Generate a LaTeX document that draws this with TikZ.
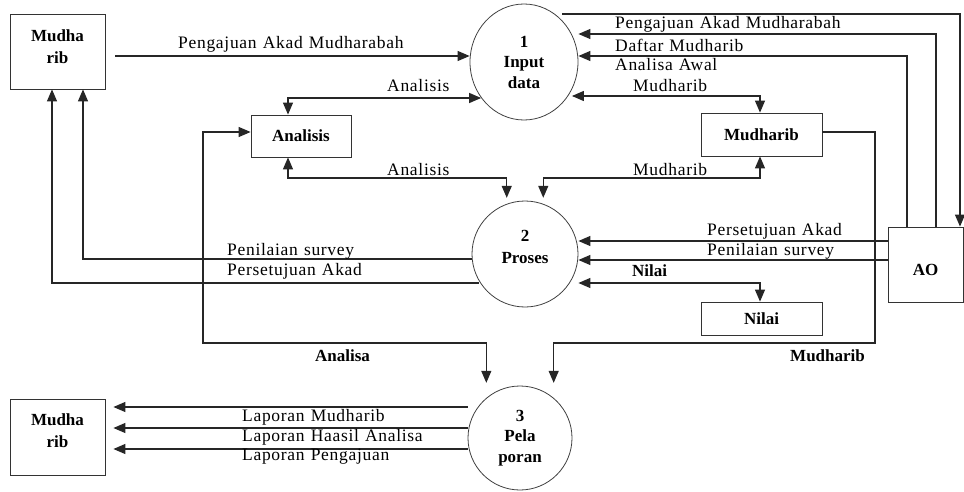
\documentclass[tikz,border=0pt]{standalone}
\usepackage{fontspec}
\setmainfont{Liberation Serif}
\newfontfamily\flowfont{Liberation Serif}[LetterSpace=4.0,WordSpace=1.2]
\usetikzlibrary{arrows.meta,shapes.geometric}
\begin{document}
\begin{tikzpicture}[x=1pt,y=-1pt,
  font=\fontsize{17}{21}\selectfont,
  box/.style={draw=black!80,line width=0.8pt,inner sep=0pt},
  proc/.style={draw=black!75,line width=0.8pt,circle,inner sep=0pt,align=center,font=\fontsize{17}{20.5}\selectfont\bfseries},
  btxt/.style={inner sep=0pt,align=center,font=\fontsize{17}{22}\selectfont\bfseries},
  lbl/.style={anchor=west,inner sep=0pt,font=\flowfont\fontsize{17.5}{21}\selectfont},
  blbl/.style={anchor=west,inner sep=0pt,font=\fontsize{17}{21}\selectfont\bfseries},
  flow/.style={draw=black!85,line width=1.2pt,-{Triangle[length=12pt,width=10pt]}},
  both/.style={draw=black!85,line width=1.2pt,{Triangle[length=12pt,width=10pt]}-{Triangle[length=12pt,width=10pt]}}]
\useasboundingbox (0,0) rectangle (964,492);

% external entities and data stores
\node[box,minimum width=95pt,minimum height=75pt] (m1) at (57.5,51.5) {};
\node[btxt] (m1t) at ([yshift=5pt]m1.center) {Mudha\\rib};
\node[box,minimum width=95pt,minimum height=76pt] (m2) at (57.5,437) {};
\node[btxt] (m2t) at ([yshift=6pt]m2.center) {Mudha\\rib};
\node[box,minimum width=100pt,minimum height=42pt,font=\fontsize{17}{21}\selectfont\bfseries] (an) at (301,136) {Analisis};
\node[box,minimum width=121pt,minimum height=43pt,font=\fontsize{17}{21}\selectfont\bfseries] (md) at (761.5,134.5) {Mudharib};
\node[box,minimum width=121pt,minimum height=33pt,font=\fontsize{17}{21}\selectfont\bfseries] (nl) at (761.5,318.5) {Nilai};
\node[box,minimum width=75pt,minimum height=75pt] (ao) at (925.5,264.5) {};
\node[btxt] (aot) at ([yshift=-5pt]ao.center) {AO};

% processes
\node[proc,ellipse,minimum width=108pt,minimum height=116pt] (p1) at (524,62) {1\\Input\\data};
\node[proc,minimum size=106pt] (p2) at (525,254) {};
\node[btxt] (p2t) at ([yshift=7pt]p2.center) {2\\Proses};
\node[proc,minimum size=104pt] (p3) at (520,438) {3\\Pela\\poran};

% flows around process 1
\draw[flow,shorten <=10pt] (m1.east |- 0,56) -- (p1.west |- 0,56);
\node[lbl] (l1) at (178,44) {Pengajuan Akad Mudharabah};
\draw[both] (an.north -| 288,0) |- (p1.220 |- 0,98);
\node[lbl] (l2) at (387,86) {Analisis};
\draw[both] (p1.-30 |- 0,96) -| (md.north -| 760,0);
\node[lbl] (l3) at (633,86) {Mudharib};
\draw[flow] (p1.north east |- 0,14) -| (ao.north -| 960,0);
\draw[flow] (ao.north -| 936,0) |- (p1.east |- 0,34);
\draw[flow] (ao.north -| 907,0) |- (p1.east |- 0,56);
\node[lbl] (l4) at (615,24) {Pengajuan Akad Mudharabah};
\node[lbl] (l5) at (615,45) {Daftar Mudharib};
\node[lbl] (l6) at (615,65) {Analisa Awal};

% flows around process 2
\draw[both] (an.south -| 288,0) -- (288,178) -| ([yshift=6pt]p2.110);
\node[lbl] (l7) at (387,170) {Analisis};
\draw[both] (md.south -| 760,0) -- (760,178) -| ([yshift=6pt]p2.70);
\node[lbl] (l8) at (633,170) {Mudharib};
\draw[flow] (ao.west |- 0,241) -- (p2.east |- 0,241);
\node[lbl] (l9) at (707,231) {Persetujuan Akad};
\draw[flow] (ao.west |- 0,260) -- (p2.east |- 0,260);
\node[lbl] (l10) at (707,251) {Penilaian survey};
\draw[both] (p2.east |- 0,283) -| (nl.north -| 760,0);
\node[blbl] (l11) at (632,271) {Nilai};
\draw[flow] (p2.west |- 0,259) -| (m1.south -| 83,0);
\node[lbl] (l12) at (227,251) {Penilaian survey};
\draw[flow] (p2.210 |- 0,283) -| (m1.south -| 52,0);
\node[lbl] (l13) at (227,271) {Persetujuan Akad};

% flows into process 3
\draw[both] (an.west |- 0,132) -| (203,343) -| ([yshift=15pt]p3.130);
\node[blbl] (l14) at (315,356) {Analisa};
\draw[flow] (md.east |- 0,132) -| (875,343) -| ([yshift=15pt]p3.50);
\node[blbl] (l15) at (790,356) {Mudharib};

% reports
\draw[flow,shorten >=8pt] (p3.west |- 0,407) -- (m2.east |- 0,407);
\node[lbl] (l16) at (242,417) {Laporan Mudharib};
\draw[flow,shorten >=8pt] (p3.west |- 0,428) -- (m2.east |- 0,428);
\node[lbl] (l17) at (242,437) {Laporan Haasil Analisa};
\draw[flow,shorten >=8pt] (p3.west |- 0,449) -- (m2.east |- 0,449);
\node[lbl] (l18) at (242,457) {Laporan Pengajuan};
\end{tikzpicture}
\end{document}
